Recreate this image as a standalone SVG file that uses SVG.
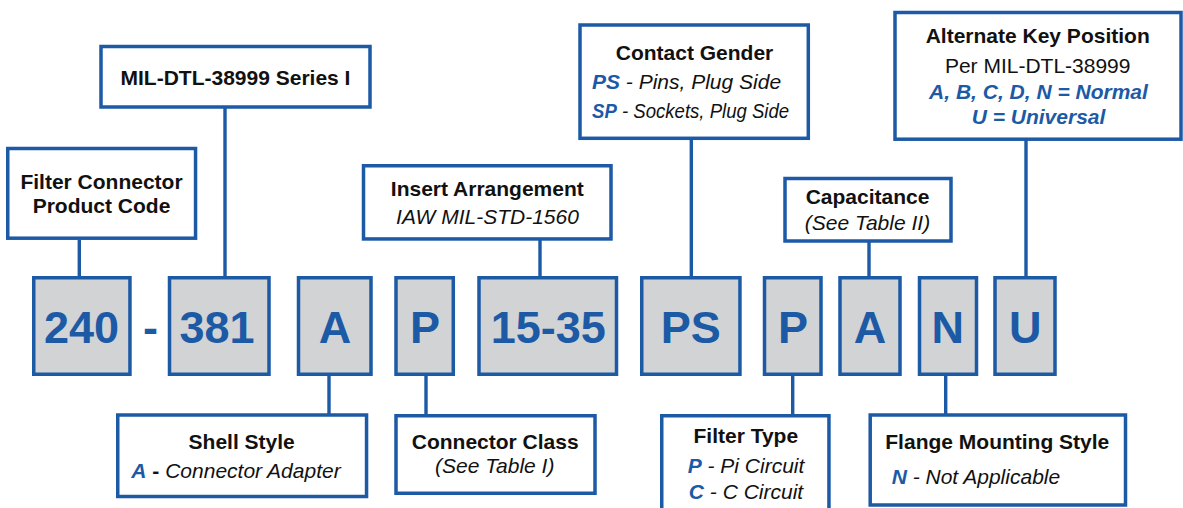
<svg xmlns="http://www.w3.org/2000/svg" width="1183" height="508" viewBox="0 0 1183 508">
<style>
.box{fill:#ffffff;stroke:#1c5aa6;stroke-width:3.5}
.code{fill:#d1d3d4;stroke:#1c5aa6;stroke-width:3.5}
.ct{font-family:"Liberation Sans",Arial,sans-serif;font-weight:bold;font-size:45px;fill:#1c5aa6;text-anchor:middle}
.t{font-family:"Liberation Sans",Arial,sans-serif;font-weight:bold;font-size:21px;fill:#111;text-anchor:middle}
.s{font-family:"Liberation Sans",Arial,sans-serif;font-style:italic;font-size:21px;fill:#111}
.r{font-family:"Liberation Sans",Arial,sans-serif;font-size:21px;fill:#111;text-anchor:middle}
.bl{font-weight:bold;fill:#1c5aa6}
.bb{font-weight:bold;font-style:normal;fill:#111}
.mid{text-anchor:middle}
.conn line{stroke:#1c5aa6;stroke-width:3.4}
</style>
<g id="connectors" class="conn">
<line x1="79.3" y1="240" x2="79.3" y2="277"/>
<line x1="225" y1="108" x2="225" y2="277"/>
<line x1="540" y1="240" x2="540" y2="277"/>
<line x1="691.3" y1="139" x2="691.3" y2="277"/>
<line x1="869" y1="242" x2="869" y2="277"/>
<line x1="1026" y1="140" x2="1026" y2="277"/>
<line x1="329" y1="375" x2="329" y2="414"/>
<line x1="426" y1="375" x2="426" y2="415"/>
<line x1="792.7" y1="375" x2="792.7" y2="415"/>
<line x1="945.7" y1="375" x2="945.7" y2="414"/>
</g>
<g id="code-240"><rect class="code" x="33.75" y="277.75" width="96.2" height="96.5"/><text class="ct" x="81.5" y="343">240</text></g>
<g id="dash"><text class="ct" x="150.5" y="343">-</text></g>
<g id="code-381"><rect class="code" x="169.5" y="277.75" width="99.5" height="96.5"/><text class="ct" x="217" y="343">381</text></g>
<g id="code-A"><rect class="code" x="298.5" y="277.75" width="72.5" height="96.5"/><text class="ct" x="335" y="343">A</text></g>
<g id="code-P"><rect class="code" x="396" y="277.75" width="57.3" height="96.5"/><text class="ct" x="425" y="343">P</text></g>
<g id="code-1535"><rect class="code" x="479" y="277.75" width="137.5" height="96.5"/><text class="ct" x="548.3" y="343">15-35</text></g>
<g id="code-PS"><rect class="code" x="641.75" y="277.75" width="98.2" height="96.5"/><text class="ct" x="690.7" y="343">PS</text></g>
<g id="code-P2"><rect class="code" x="764.5" y="277.75" width="56.5" height="96.5"/><text class="ct" x="793" y="343">P</text></g>
<g id="code-A2"><rect class="code" x="840" y="277.75" width="60" height="96.5"/><text class="ct" x="870" y="343">A</text></g>
<g id="code-N"><rect class="code" x="919.5" y="277.75" width="57" height="96.5"/><text class="ct" x="947.8" y="343">N</text></g>
<g id="code-U"><rect class="code" x="995" y="277.75" width="60" height="96.5"/><text class="ct" x="1025.2" y="343">U</text></g>

<g id="product-code"><rect class="box" x="7.75" y="148.5" width="187.8" height="89.7"/>
<text class="t" x="101.5" y="189.3">Filter Connector</text><text class="t" x="101.5" y="213.3">Product Code</text></g>
<g id="series"><rect class="box" x="101" y="46.5" width="269" height="60.5"/>
<text class="t" x="235.5" y="85">MIL-DTL-38999 Series I</text></g>
<g id="insert"><rect class="box" x="363.5" y="165.75" width="247.5" height="73.2"/>
<text class="t" x="487.3" y="196">Insert Arrangement</text><text class="s mid" x="487.5" y="224">IAW MIL-STD-1560</text></g>
<g id="gender"><rect class="box" x="580" y="25" width="228.3" height="113.3"/>
<text class="t" x="694.5" y="60">Contact Gender</text>
<text class="s" x="592" y="89.3"><tspan class="bl">PS</tspan> - Pins, Plug Side</text>
<text class="s" transform="translate(592,118.3) scale(0.885,1)" x="0" y="0"><tspan class="bl">SP</tspan> - Sockets, Plug Side</text></g>
<g id="capacitance"><rect class="box" x="785" y="178.5" width="166" height="62.5"/>
<text class="t" x="867.5" y="204">Capacitance</text><text class="s mid" x="867.5" y="230">(See Table II)</text></g>
<g id="key"><rect class="box" x="895" y="12.5" width="286" height="126.7"/>
<text class="t" x="1037.7" y="42.7">Alternate Key Position</text>
<text class="r" x="1037.7" y="73.3">Per MIL-DTL-38999</text>
<text class="s mid bl" x="1038.5" y="99">A, B, C, D, N = Normal</text>
<text class="s mid bl" x="1038.5" y="124.3">U = Universal</text></g>
<g id="shell"><rect class="box" x="117.75" y="415" width="248.8" height="81.5"/>
<text class="t" x="241.7" y="449.3">Shell Style</text>
<text class="s mid" x="236" y="478.3"><tspan class="bl">A</tspan><tspan class="bb"> - </tspan>Connector Adapter</text></g>
<g id="class"><rect class="box" x="396" y="415.75" width="199" height="77.5"/>
<text class="t" x="495.2" y="448.5">Connector Class</text><text class="s mid" x="494.7" y="473">(See Table I)</text></g>
<g id="filter-type"><rect class="box" x="661.75" y="415.75" width="167.2" height="100"/>
<text class="t" x="745.8" y="442.7">Filter Type</text>
<text class="s mid" x="746" y="473.3"><tspan class="bl">P</tspan> - Pi Circuit</text>
<text class="s mid" x="746" y="499.3"><tspan class="bl">C</tspan> - C Circuit</text></g>
<g id="flange"><rect class="box" x="870.2" y="415" width="255.3" height="90"/>
<text class="t" x="997.3" y="449.3">Flange Mounting Style</text>
<text class="s" x="891.7" y="484"><tspan class="bl">N</tspan> - Not Applicable</text></g>
</svg>
